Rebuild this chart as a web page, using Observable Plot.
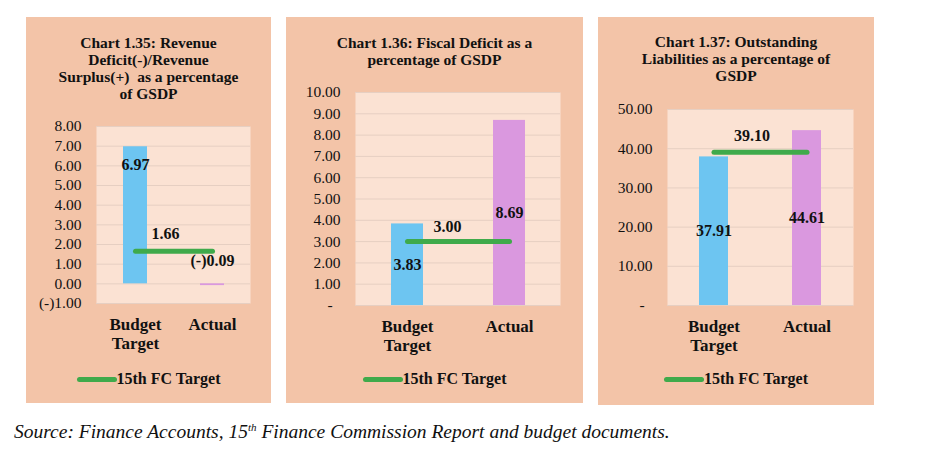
<!DOCTYPE html>
<html>
<head>
<meta charset="utf-8">
<script src="https://cdn.jsdelivr.net/npm/d3@7"></script>
<script src="https://cdn.jsdelivr.net/npm/@observablehq/plot@0.6"></script>
<style>
  html, body { margin: 0; padding: 0; background: #ffffff; }
  body { width: 940px; height: 450px; position: relative; overflow: hidden; font-family: "Liberation Serif", "DejaVu Serif", serif; color: #111; }
  .panel { position: absolute; background: #F3C4A8; }
  .title { position: absolute; left: 0; right: 0; text-align: center; font-weight: bold; font-size: 15.5px; line-height: 17px; }
  .chart { position: absolute; left: 0; top: 63px; }
  .legend { position: absolute; left: 0; right: 0; top: 353px; display: flex; justify-content: center; align-items: center; font-weight: bold; font-size: 16px; }
  .legend .sw { display: inline-block; width: 40px; height: 5px; background: #3FAA4B; border-radius: 3px; }
  .source { position: absolute; left: 14px; top: 421px; font-style: italic; font-size: 19.5px; white-space: nowrap; }
  .source sup { font-size: 11px; vertical-align: 7px; line-height: 0; }
</style>
</head>
<body>
<div id="root"></div>
<div class="source">Source: Finance Accounts, 15<sup>th</sup> Finance Commission Report and budget documents.</div>
<script>
// ---- data ----
const categories = ["Budget Target", "Actual"];
const titles = [
  "Chart 1.35: Revenue<br>Deficit(-)/Revenue<br>Surplus(+)&nbsp; as a percentage<br>of GSDP",
  "Chart 1.36: Fiscal Deficit as a<br>percentage of GSDP",
  "Chart 1.37: Outstanding<br>Liabilities as a percentage of<br>GSDP"
];
const revenueValues = [6.97, -0.09];
const revenueFC = 1.66;
const fiscalValues = [3.83, 8.69];
const fiscalFC = 3.00;
const liabilityValues = [37.91, 44.61];
const liabilityFC = 39.10;
const revenueTicks = [-1, 0, 1, 2, 3, 4, 5, 6, 7, 8];
const fiscalTicks = [0, 1, 2, 3, 4, 5, 6, 7, 8, 9, 10];
const liabilityTicks = [0, 10, 20, 30, 40, 50];
const legendLabel = "15th FC Target";

// ---- styling / layout ----
const barColors = ["#6DC5F1", "#DA98DF"];
const lineColor = "#3FAA4B";
const panels = [
  {values: revenueValues, fc: revenueFC, ticks: revenueTicks, domain: [-1, 8],
   left: 26, top: 17, width: 245, height: 386, titleTop: 17,
   mt: 46, mb: 57, ml: 70, mr: 21, svgH: 280,
   zeroDash: false, barLabelMode: "custom", barDy: [18, -25], fcDx: 30, fcDy: -17},
  {values: fiscalValues, fc: fiscalFC, ticks: fiscalTicks, domain: [0, 10],
   left: 286, top: 17, width: 297, height: 386, titleTop: 17,
   mt: 12, mb: 55, ml: 69, mr: 23, svgH: 280,
   zeroDash: true, barLabelMode: "center", fcDx: 40, fcDy: -15},
  {values: liabilityValues, fc: liabilityFC, ticks: liabilityTicks, domain: [0, 50],
   left: 598, top: 17, width: 276, height: 388, titleTop: 16,
   mt: 29, mb: 55, ml: 69, mr: 21, svgH: 280,
   zeroDash: true, barLabelMode: "center", fcDx: 38, fcDy: -16}
];

const root = document.getElementById("root");
panels.forEach((p, k) => {
  const div = document.createElement("div");
  div.className = "panel";
  Object.assign(div.style, {left: p.left + "px", top: p.top + "px", width: p.width + "px", height: p.height + "px"});

  const t = document.createElement("div");
  t.className = "title";
  t.style.top = p.titleTop + "px";
  t.innerHTML = titles[k];
  div.appendChild(t);

  const bars = categories.map((c, i) => ({cat: c, value: p.values[i], color: barColors[i], i}));
  const fcLine = categories.map(c => ({cat: c, value: p.fc}));

  const fmt = v => {
    if (v === 0 && p.zeroDash) return "-\u00A0\u00A0";
    const s = Math.abs(v).toFixed(2);
    return v < 0 ? "(-)" + s : s;
  };
  const lbl = v => v < 0 ? "(-)" + Math.abs(v).toFixed(2) : v.toFixed(2);

  const marks = [
    Plot.frame({fill: "#FBE2D3", stroke: null}),
    Plot.gridY(p.ticks, {stroke: "#E6CFC2", strokeOpacity: 1, strokeWidth: 1}),
    Plot.barY(bars, {x: "cat", y: "value", fill: "color"}),
    Plot.lineY(fcLine, {x: "cat", y: "value", stroke: lineColor, strokeWidth: 5, strokeLinecap: "round"}),
    Plot.text([fcLine[0]], {x: "cat", y: "value", text: d => d.value.toFixed(2), dx: p.fcDx, dy: p.fcDy,
      fontWeight: "bold", fontSize: 16, fill: "#111"}),
    Plot.axisY({ticks: p.ticks, tickFormat: fmt, tickSize: 0, tickPadding: 15, fontSize: 15.5, label: null, fill: "#111"}),
    Plot.axisX({tickSize: 0, tickPadding: 13, fontSize: 17, fontWeight: "bold", label: null, lineHeight: 1.12,
      tickFormat: d => d.replace(" ", "\n"), fill: "#111"})
  ];
  if (p.barLabelMode === "center") {
    marks.push(Plot.text(bars, {x: "cat", y: d => d.value / 2, text: d => lbl(d.value),
      fontWeight: "bold", fontSize: 16, fill: "#111"}));
  } else {
    bars.forEach((b, i) => {
      marks.push(Plot.text([b], {x: "cat", y: "value", text: d => lbl(d.value), dy: p.barDy[i],
        fontWeight: "bold", fontSize: 16, fill: "#111"}));
    });
  }

  const svg = Plot.plot({
    width: p.width,
    height: p.svgH,
    marginTop: p.mt,
    marginBottom: p.mb,
    marginLeft: p.ml,
    marginRight: p.mr,
    style: {background: "transparent", fontFamily: "'Liberation Serif', serif", color: "#111", overflow: "visible"},
    x: {domain: categories, type: "band", paddingInner: 0.69, paddingOuter: 0.345, axis: null},
    y: {domain: p.domain, axis: null},
    marks
  });
  svg.classList.add("chart");
  div.appendChild(svg);

  const lg = document.createElement("div");
  lg.className = "legend";
  lg.innerHTML = '<span class="sw"></span><span>' + legendLabel + '</span>';
  div.appendChild(lg);

  root.appendChild(div);
});
</script>
</body>
</html>
